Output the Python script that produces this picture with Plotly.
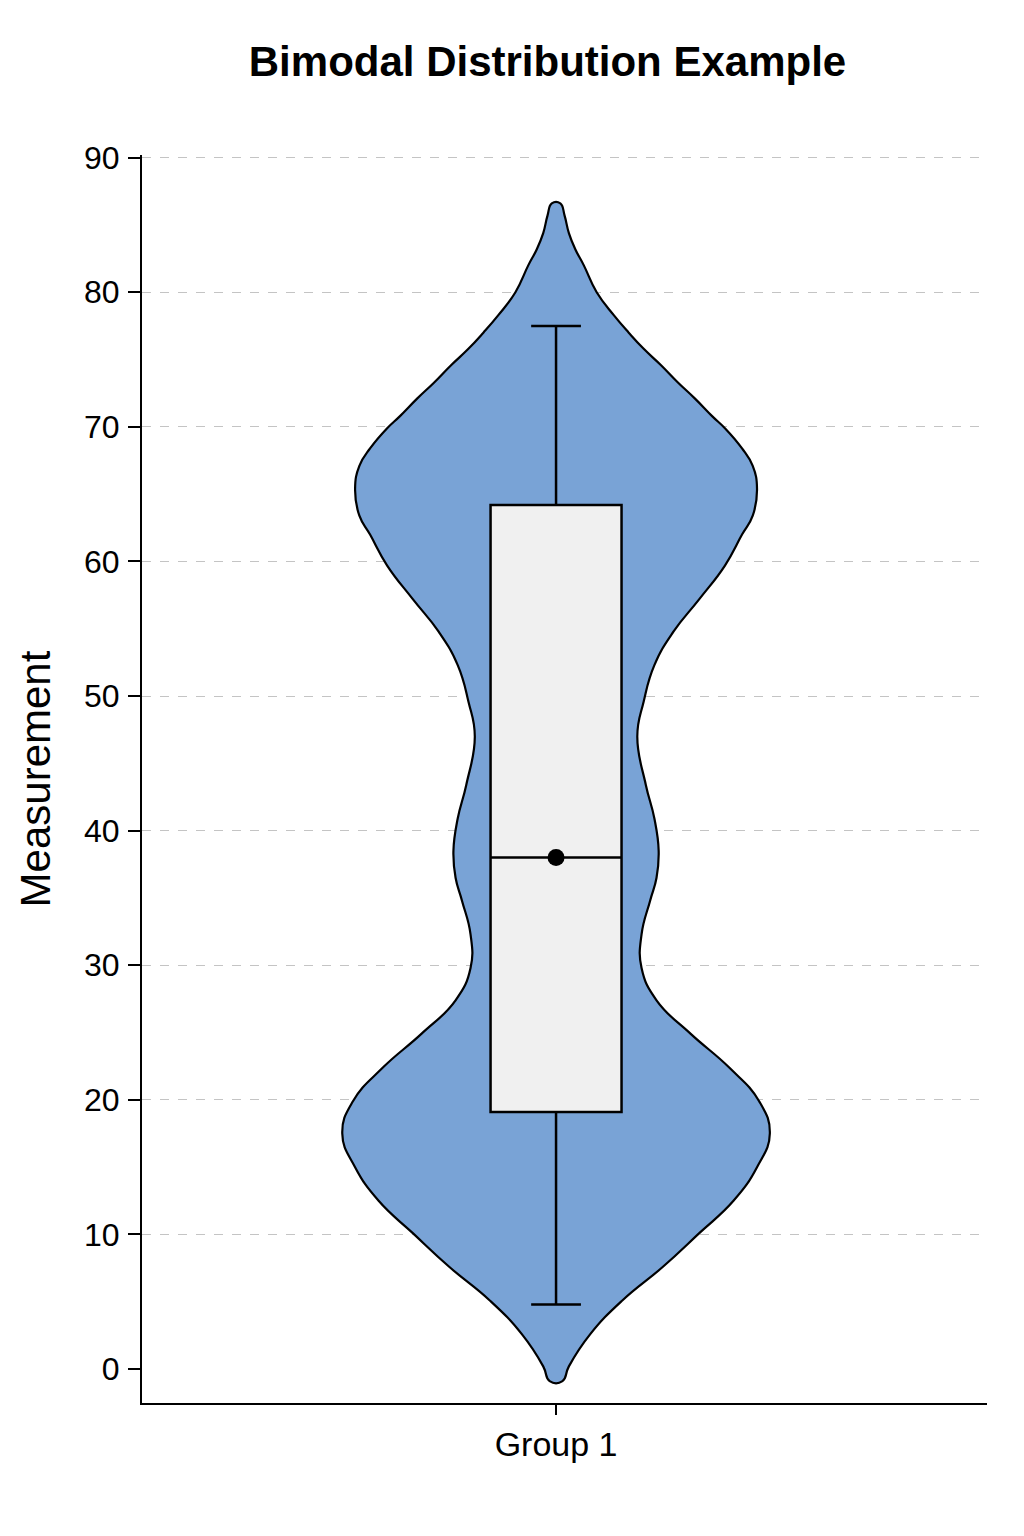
import plotly.graph_objects as go

measure_grid = [-0.9, 0.2, 2.6, 5.1, 7.6, 10.1, 12.5, 15.0, 17.5, 19.9, 22.4, 24.9, 27.4,
                29.8, 32.3, 34.8, 36.5, 38.5, 40.9, 43.4, 47.0, 49.6, 52.3, 54.8, 57.2,
                59.7, 62.0, 63.4, 65.4, 67.1, 68.4, 69.9, 70.8, 72.1, 73.3, 74.6, 75.8,
                77.0, 78.3, 80.0, 82.0, 83.2, 84.4, 85.7, 86.6]
density = [0.03, 0.06, 0.16, 0.31, 0.50, 0.67, 0.83, 0.94, 1.00, 0.95, 0.81, 0.63, 0.47,
           0.40, 0.40, 0.44, 0.47, 0.48, 0.46, 0.42, 0.38, 0.41, 0.46, 0.55, 0.67,
           0.79, 0.87, 0.92, 0.94, 0.92, 0.87, 0.79, 0.73, 0.65, 0.57, 0.49, 0.41,
           0.34, 0.27, 0.19, 0.13, 0.09, 0.06, 0.04, 0.02]

# box summary
group = 'Group 1'
q1 = 19.1
median = 38.0
q3 = 64.2
whisker_low = 4.8
whisker_high = 77.5
mean = 38.0

y_ticks = [0, 10, 20, 30, 40, 50, 60, 70, 80, 90]

FONT = 'Liberation Sans'
VIOLIN_HALF = 0.506
X_RANGE = [-0.98, 1.02]
Y_RANGE = [-2.52, 90.2]
pos = 0

right = [pos + d * VIOLIN_HALF for d in density]
left = [pos - d * VIOLIN_HALF for d in density]

fig = go.Figure()

# violin body
fig.add_trace(go.Scatter(
    x=right + left[::-1] + [right[0]],
    y=measure_grid + measure_grid[::-1] + [measure_grid[0]],
    mode='lines', fill='toself', fillcolor='#79a3d6',
    line=dict(color='black', width=2.2, shape='spline', smoothing=1.3),
    hoverinfo='skip', showlegend=False
))

# box + mean go on an overlaid axis pair so they sit above the violin
fig.add_trace(go.Box(
    x=[pos], q1=[q1], median=[median], q3=[q3],
    lowerfence=[whisker_low], upperfence=[whisker_high],
    width=0.31, whiskerwidth=0.38,
    fillcolor='#f0f0f0', line=dict(color='black', width=2.5),
    boxpoints=False, showlegend=False, xaxis='x2', yaxis='y2'
))

fig.add_trace(go.Scatter(
    x=[pos], y=[mean], mode='markers',
    marker=dict(color='black', size=17), showlegend=False,
    xaxis='x2', yaxis='y2'
))

# page body adds an 8px offset, so the figure is 8px smaller each way
fig.update_layout(
    width=1016, height=1528,
    paper_bgcolor='white', plot_bgcolor='white',
    margin=dict(l=134, r=37, t=147, b=133),
    font=dict(family=FONT, color='black'),
    title=dict(text='<b>Bimodal Distribution Example</b>', x=0.531, xanchor='center',
               y=0.9648, yanchor='middle', yref='container',
               font=dict(size=42, family=FONT, color='black')),
    xaxis=dict(range=X_RANGE, tickmode='array', tickvals=[pos], ticktext=[group],
               showgrid=False, zeroline=False, showline=True, linecolor='black', linewidth=2,
               ticks='outside', ticklen=10, tickwidth=2, tickcolor='black',
               tickfont=dict(size=34, family=FONT), automargin=False),
    yaxis=dict(range=Y_RANGE, tickmode='array', tickvals=y_ticks,
               title=dict(text='Measurement', font=dict(size=42, family=FONT), standoff=20),
               showgrid=True, gridcolor='#c4c4c4', gridwidth=1, griddash='dash',
               zeroline=True, zerolinecolor='rgba(0,0,0,0)', zerolinewidth=1,
               showline=True, linecolor='black', linewidth=2,
               ticks='outside', ticklen=12, tickwidth=2, tickcolor='black',
               ticklabelstandoff=2, tickfont=dict(size=32, family=FONT), automargin=False),
    xaxis2=dict(overlaying='x', matches='x', visible=False, range=X_RANGE),
    yaxis2=dict(overlaying='y', matches='y', visible=False, range=Y_RANGE),
)

fig.write_html('out.html')
